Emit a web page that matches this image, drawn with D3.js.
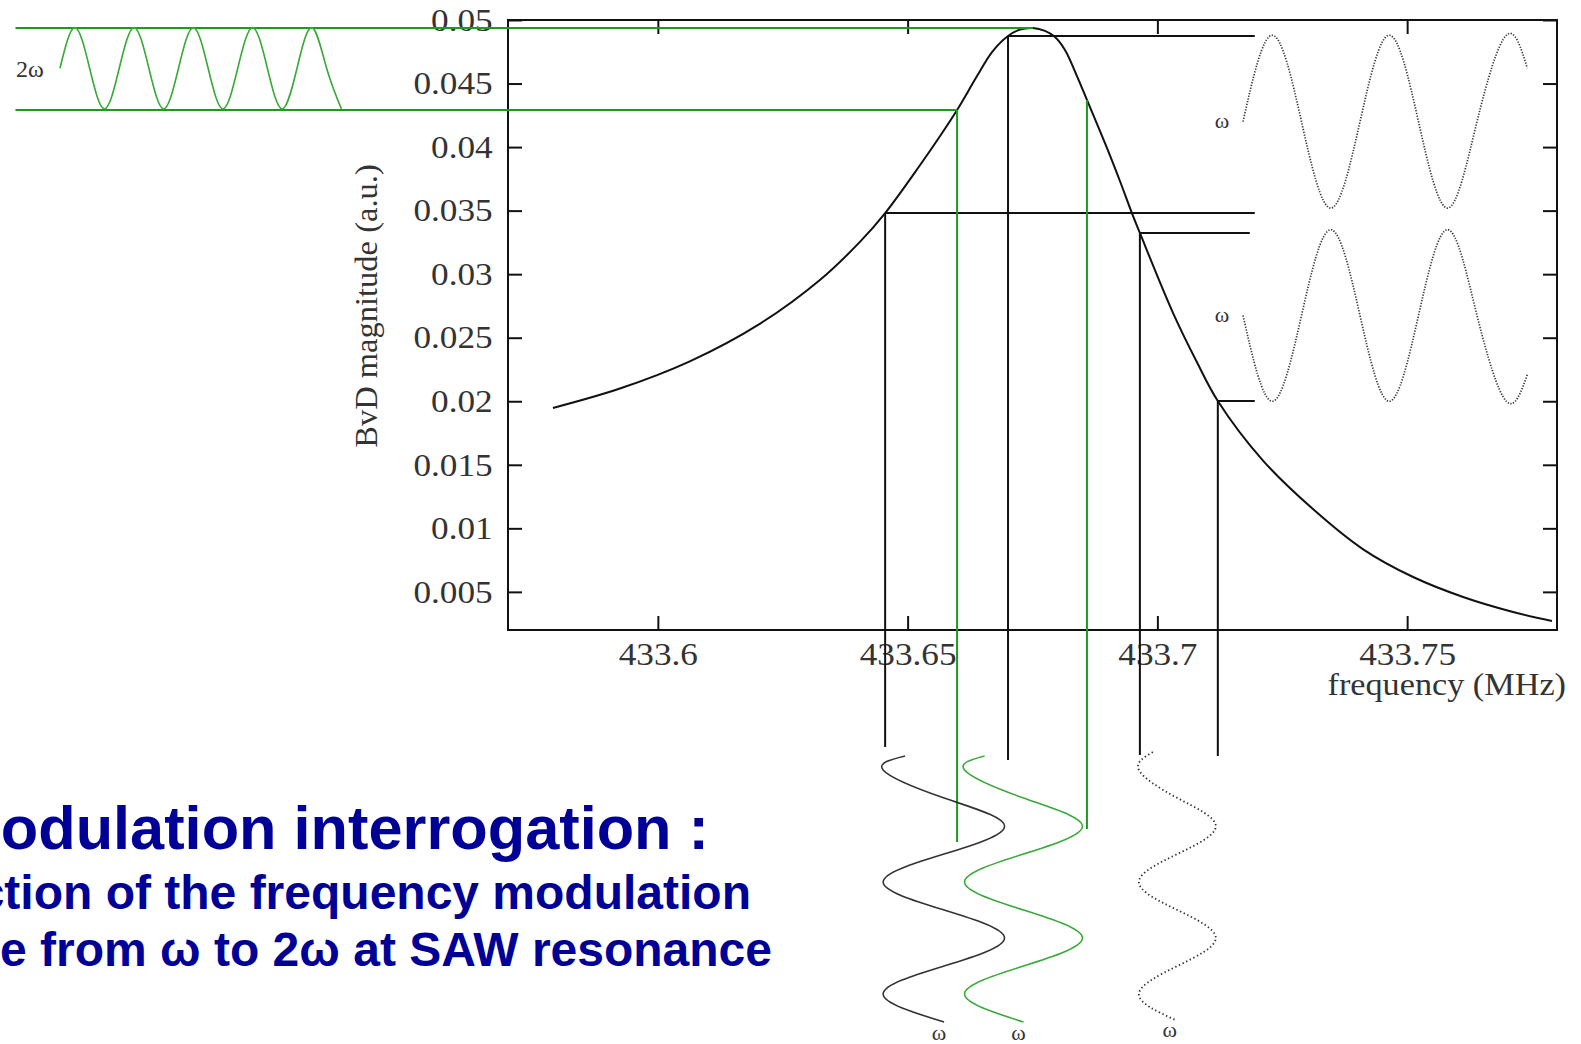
<!DOCTYPE html>
<html>
<head>
<meta charset="utf-8">
<script src="https://cdn.jsdelivr.net/npm/d3@7"></script>
<style>
  html, body { margin: 0; padding: 0; background: #fff; }
  svg { display: block; }
</style>
</head>
<body>
<svg id="chart" width="1581" height="1044"></svg>
<script>
// ---- BvD resonance curve (frequency in MHz, magnitude in a.u.) ----
const freqMHz = [433.5790, 433.5924, 433.6064, 433.6204, 433.6325, 433.6405, 433.6455, 433.6525,
                 433.6565, 433.6599, 433.6639, 433.6669, 433.6701, 433.6725, 433.6751, 433.6775,
                 433.6795, 433.6815, 433.6839, 433.6859, 433.6899, 433.6925, 433.6949, 433.6965,
                 433.7031, 433.7079, 433.7121, 433.7211, 433.7312, 433.7412, 433.7512, 433.7612,
                 433.7712, 433.7790];
const bvdMag  = [0.01947, 0.02100, 0.02314, 0.02609, 0.02956, 0.03256, 0.03481, 0.03859,
                 0.04087, 0.04292, 0.04559, 0.04748, 0.04874, 0.04925, 0.04937, 0.04914,
                 0.04866, 0.04764, 0.04559, 0.04371, 0.03993, 0.03733, 0.03481, 0.03324,
                 0.02698, 0.02309, 0.02002, 0.01535, 0.01150, 0.00835, 0.00617, 0.00460,
                 0.00342, 0.00271];

// ---- axes ----
const xTicks = [433.6, 433.65, 433.7, 433.75];
const xTickLabels = ["433.6", "433.65", "433.7", "433.75"];
const yTicks = [0.005, 0.01, 0.015, 0.02, 0.025, 0.03, 0.035, 0.04, 0.045, 0.05];
const yTickLabels = ["0.005", "0.01", "0.015", "0.02", "0.025", "0.03", "0.035", "0.04", "0.045", "0.05"];
const xDomain = [433.57, 433.78];
const yDomain = [0.002, 0.05];

// ---- working points of the ω interrogation (black) ----
const probeFreq       = [433.6455, 433.6701, 433.6965, 433.7121];
const probeMag        = [0.03481, 0.04874, 0.03324, 0.02002];
const probeLineEnd    = [433.7195, 433.7195, 433.7185, 433.7195];   // right end of the level lines (MHz)
const probeDropTime   = [-0.205, -0.089, -0.134, -0.125];           // lower end in modulation periods

// ---- working points of the 2ω interrogation (green) ----
const greenFreq     = [433.6599, 433.6859];
const greenMag      = [0.04292, 0.04371];
const greenDropTime = [0.643, 0.527];
const peakFreq = 433.6751;
const peakMag  = 0.04937;
const greenLineStart = 433.4714;

// ---- 2ω magnitude response (top left) ----
const resp2wTime = [0, 0.25, 0.5, 0.75, 1, 1.25, 1.5, 1.75, 2, 2.25, 2.5, 2.75,
                    3, 3.25, 3.5, 3.75, 4, 4.25, 4.5, 4.75];
const resp2wMag  = [0.0462, 0.0494, 0.0462, 0.0430, 0.0462, 0.0494, 0.0462, 0.0430,
                    0.0462, 0.0494, 0.0462, 0.0430, 0.0462, 0.0494, 0.0462, 0.0430,
                    0.0462, 0.0494, 0.0462, 0.0430];

// ---- ω magnitude responses (right) ----
const respTime   = [0, 0.25, 0.5, 0.75, 1, 1.25, 1.5, 1.75, 2, 2.25, 2.43];
const respUpper  = [0.0420, 0.0488, 0.0420, 0.0352, 0.0420, 0.0488, 0.0420, 0.0352, 0.0420, 0.0488, 0.0462];
const respLower  = [0.02675, 0.0200, 0.02675, 0.0335, 0.02675, 0.0200, 0.02675, 0.0335, 0.02675, 0.0200, 0.0221];

// ---- frequency modulation excitations (bottom), time in modulation periods ----
const modTime      = [-0.125, 0, 0.25, 0.5, 0.75, 1, 1.25, 1.5, 1.75, 2, 2.25];
const modBlack     = [433.6495, 433.6451, 433.6573, 433.6694, 433.6573, 433.6451, 433.6573, 433.6694, 433.6573, 433.6451, 433.6573];
const modGreen     = [433.6654, 433.6614, 433.6732, 433.6850, 433.6732, 433.6614, 433.6732, 433.6850, 433.6732, 433.6614, 433.6732];
const modDotTime   = [-0.16, 0, 0.25, 0.5, 0.75, 1, 1.25, 1.5, 1.75, 2, 2.23];
const modDotted    = [433.6991, 433.6963, 433.7040, 433.7117, 433.7040, 433.6963, 433.7040, 433.7117, 433.7040, 433.6963, 433.7035];

// ---- caption ----
const captionLines = ["odulation interrogation :",
                      "ction of the frequency modulation",
                      "e from ω to 2ω at SAW resonance"];

// ================= drawing =================
const svg = d3.select("#chart");
const plot = { left: 508, right: 1557, top: 20, bottom: 630 };
const serif = "'Liberation Serif', 'Times New Roman', serif";
const BLACK = "#111", GREEN = "#1e9b1e", GREEN_LIGHT = "#3aa83a";
const WIDE = "scale(1.1,1)";   // the plot lettering is set slightly wide

const x = d3.scaleLinear().domain(xDomain).range([plot.left, plot.right]);
const y = d3.scaleLinear().domain(yDomain).range([plot.bottom, plot.top]);
// time axes of the side panels (one modulation period each)
const tBottom = d3.scaleLinear().domain([0, 1]).range([770, 882]);
const tRight  = d3.scaleLinear().domain([0, 1]).range([1243, 1360]);
const tLeft   = d3.scaleLinear().domain([0, 1]).range([60, 119.25]);

// axes with inward ticks
function styleAxis(g, showText) {
  g.select(".domain").remove();
  g.selectAll(".tick line").attr("stroke", BLACK).attr("stroke-width", 2);
  g.selectAll(".tick text")
    .attr("font-family", serif).attr("font-size", 32).attr("fill", "#333")
    .attr("transform", WIDE);
  if (!showText) g.selectAll(".tick text").remove();
}

svg.append("g").attr("transform", `translate(${plot.left},0)`)
  .call(d3.axisLeft(y).tickValues(yTicks).tickSize(-14).tickPadding(14)
        .tickFormat((d, i) => yTickLabels[i]))
  .call(g => styleAxis(g, true));
svg.append("g").attr("transform", `translate(${plot.right},0)`)
  .call(d3.axisRight(y).tickValues(yTicks).tickSize(-14))
  .call(g => styleAxis(g, false));
svg.append("g").attr("transform", `translate(0,${plot.bottom})`)
  .call(d3.axisBottom(x).tickValues(xTicks).tickSize(-14).tickPadding(12)
        .tickFormat((d, i) => xTickLabels[i]))
  .call(g => styleAxis(g, true));
svg.append("g").attr("transform", `translate(0,${plot.top})`)
  .call(d3.axisTop(x).tickValues(xTicks).tickSize(-14))
  .call(g => styleAxis(g, false));

svg.append("rect")
  .attr("x", plot.left).attr("y", plot.top)
  .attr("width", plot.right - plot.left).attr("height", plot.bottom - plot.top)
  .attr("fill", "none").attr("stroke", BLACK).attr("stroke-width", 2);

// axis titles
svg.append("text")
  .attr("transform", "translate(377,306) rotate(-90)")
  .attr("text-anchor", "middle")
  .attr("font-family", serif).attr("font-size", 32.5).attr("fill", "#333")
  .text("BvD magnitude (a.u.)");
svg.append("text")
  .attr("transform", "translate(1566,695) scale(1.07,1)")
  .attr("text-anchor", "end")
  .attr("font-family", serif).attr("font-size", 32).attr("fill", "#333")
  .text("frequency (MHz)");

// resonance curve
const curveData = freqMHz.map((f, i) => [f, bvdMag[i]]);
svg.append("path")
  .datum(curveData)
  .attr("fill", "none").attr("stroke", BLACK).attr("stroke-width", 2)
  .attr("d", d3.line().x(d => x(d[0])).y(d => y(d[1])).curve(d3.curveCatmullRom.alpha(0.5)));

// ω working points: level line to the right, drop line to the excitation
const guides = svg.append("g").attr("fill", "none");
probeFreq.forEach((f, i) => {
  guides.append("line")
    .attr("x1", x(f)).attr("y1", y(probeMag[i]))
    .attr("x2", x(probeLineEnd[i])).attr("y2", y(probeMag[i]))
    .attr("stroke", BLACK).attr("stroke-width", 2);
  guides.append("line")
    .attr("x1", x(f)).attr("y1", y(probeMag[i]))
    .attr("x2", x(f)).attr("y2", tBottom(probeDropTime[i]))
    .attr("stroke", BLACK).attr("stroke-width", 2);
});

// 2ω working points
guides.append("line")
  .attr("x1", x(greenLineStart)).attr("y1", y(peakMag))
  .attr("x2", x(peakFreq)).attr("y2", y(peakMag))
  .attr("stroke", GREEN).attr("stroke-width", 2);
guides.append("line")
  .attr("x1", x(greenLineStart)).attr("y1", y(greenMag[0]))
  .attr("x2", x(greenFreq[0])).attr("y2", y(greenMag[0]))
  .attr("stroke", GREEN).attr("stroke-width", 2);
greenFreq.forEach((f, i) => {
  guides.append("line")
    .attr("x1", x(f)).attr("y1", y(greenMag[i]))
    .attr("x2", x(f)).attr("y2", tBottom(greenDropTime[i]))
    .attr("stroke", GREEN).attr("stroke-width", 2);
});

// magnitude responses
const respLine = (tScale) => d3.line().x(d => tScale(d[0])).y(d => y(d[1])).curve(d3.curveNatural);

svg.append("path")
  .datum(resp2wTime.map((t, i) => [t, resp2wMag[i]]))
  .attr("fill", "none").attr("stroke", GREEN_LIGHT).attr("stroke-width", 1.6)
  .attr("d", respLine(tLeft));

[respUpper, respLower].forEach(series => {
  svg.append("path")
    .datum(respTime.map((t, i) => [t, series[i]]))
    .attr("fill", "none").attr("stroke", "#3a3a3a").attr("stroke-width", 1.7)
    .attr("stroke-dasharray", "1.3 1.5")
    .attr("d", respLine(tRight));
});

// frequency excitations
const modLine = d3.line().x(d => x(d[1])).y(d => tBottom(d[0])).curve(d3.curveNatural);
svg.append("path")
  .datum(modTime.map((t, i) => [t, modBlack[i]]))
  .attr("fill", "none").attr("stroke", "#333").attr("stroke-width", 1.6)
  .attr("d", modLine);
svg.append("path")
  .datum(modTime.map((t, i) => [t, modGreen[i]]))
  .attr("fill", "none").attr("stroke", GREEN_LIGHT).attr("stroke-width", 1.6)
  .attr("d", modLine);
svg.append("path")
  .datum(modDotTime.map((t, i) => [t, modDotted[i]]))
  .attr("fill", "none").attr("stroke", "#333").attr("stroke-width", 1.8)
  .attr("stroke-dasharray", "1.4 2.6")
  .attr("d", modLine);

// ω / 2ω labels
const lab = svg.append("g")
  .attr("font-family", serif).attr("font-size", 22).attr("fill", "#333")
  .attr("text-anchor", "middle");
lab.append("text").attr("x", tLeft(0) - 30).attr("y", y(resp2wMag[0])).attr("dy", "0.35em")
  .attr("font-size", 24).text("2ω");
lab.append("text").attr("x", tRight(0) - 21).attr("y", y(respUpper[0])).attr("dy", "0.3em").text("ω");
lab.append("text").attr("x", tRight(0) - 21).attr("y", y(respLower[0])).attr("dy", "0.3em").text("ω");
[[modTime, modBlack], [modTime, modGreen], [modDotTime, modDotted]].forEach(([ts, fs]) => {
  const n = ts.length - 1;
  lab.append("text").attr("x", x(fs[n]) - 5).attr("y", tBottom(ts[n]) + 11).attr("dy", "0.3em").text("ω");
});

// caption
const cap = svg.append("g")
  .attr("font-family", "'Liberation Sans', Arial, sans-serif")
  .attr("font-weight", "bold").attr("fill", "#000096").attr("text-anchor", "end");
cap.append("text").attr("x", 709).attr("y", 849).attr("font-size", 61.3).text(captionLines[0]);
cap.append("text").attr("x", 751).attr("y", 909).attr("font-size", 48).text(captionLines[1]);
cap.append("text").attr("x", 772).attr("y", 966).attr("font-size", 48).text(captionLines[2]);
</script>
</body>
</html>
